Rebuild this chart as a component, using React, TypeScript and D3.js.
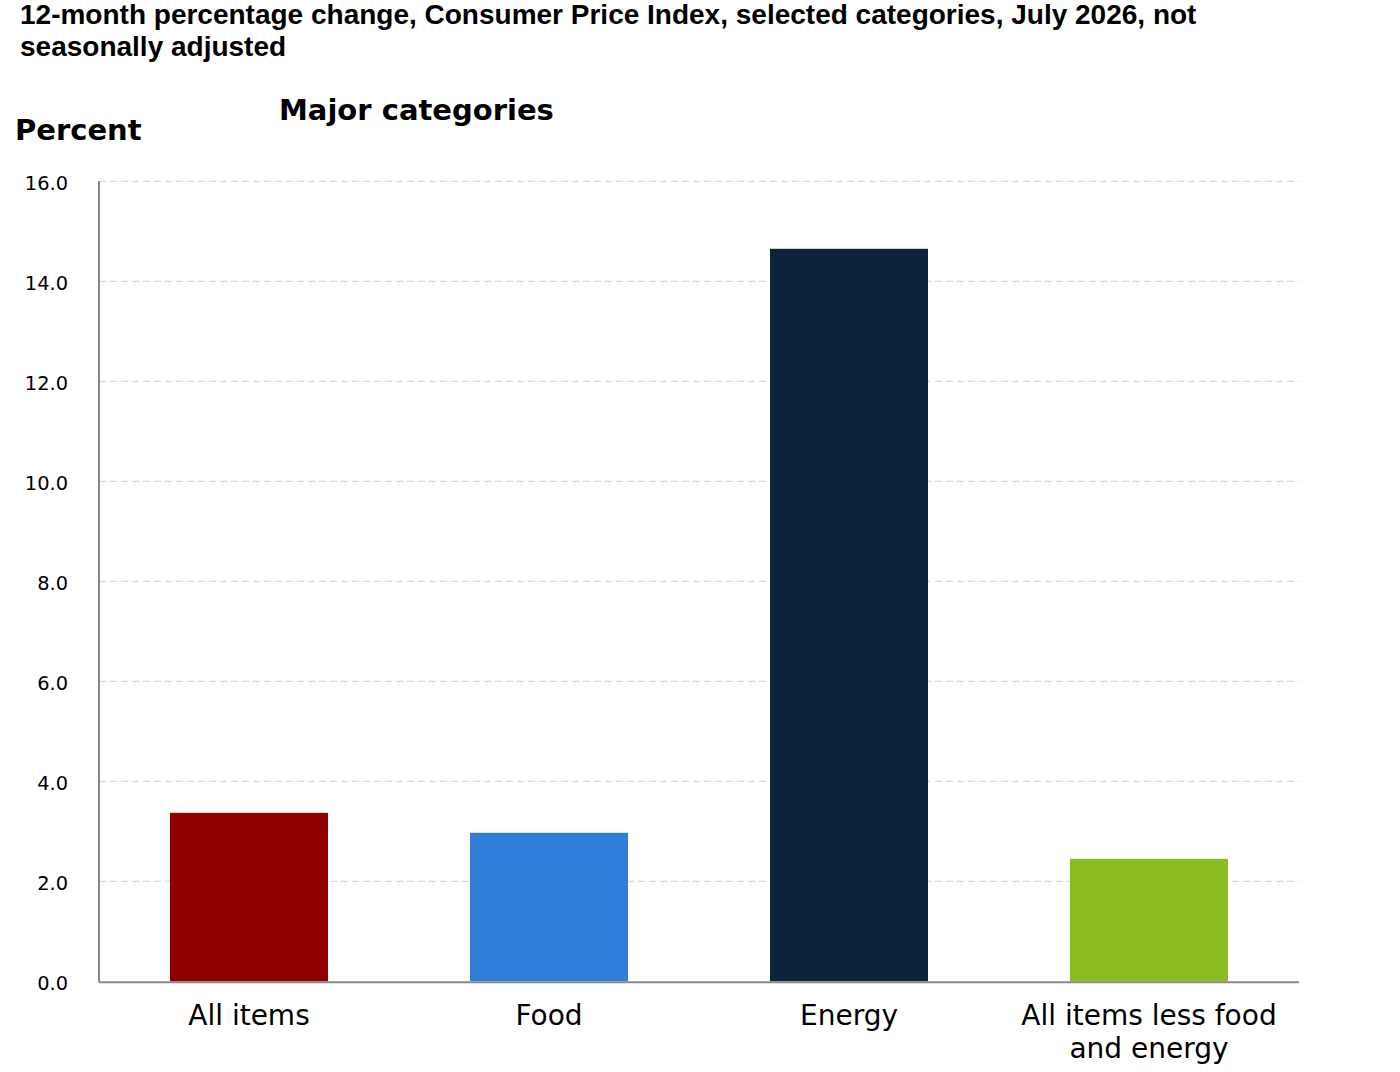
import React from "react";
import * as d3 from "d3";

const titleLines = [
  "12-month percentage change, Consumer Price Index, selected categories, July 2026, not",
  "seasonally adjusted",
];
const subtitle = "Major categories";
const yAxisTitle = "Percent";

const categories = ["All items", "Food", "Energy", "All items less food and energy"];
const categoryLabelLines = [["All items"], ["Food"], ["Energy"], ["All items less food", "and energy"]];
const values = [3.37, 2.97, 14.65, 2.45];
const barColors = ["#910000", "#2f7ed8", "#0d233a", "#8bbc21"];
const yTicks = [0, 2, 4, 6, 8, 10, 12, 14, 16];

const W = 1400;
const H = 1072;
const plotLeft = 99;
const plotRight = 1299;
const plotTop = 181.3;
const plotBottom = 981.3;

export default function App() {
  const x = d3.scaleBand<string>().domain(categories).range([plotLeft, plotRight]).paddingInner(0.4733).paddingOuter(0.2367);
  const y = d3.scaleLinear().domain([0, 16]).range([plotBottom, plotTop]);
  const fmt = d3.format(".1f");
  const verdana = "'DejaVu Sans', Verdana, sans-serif";
  const arial = "'Liberation Sans', Arial, sans-serif";

  return (
    <svg width={W} height={H} style={{ position: "absolute", left: 0, top: 0, background: "#fff" }}>
      <rect x={0} y={0} width={W} height={H} fill="#fff" />
      {titleLines.map((t, i) => (
        <text key={i} x={20} y={24 + i * 32} fontFamily={arial} fontWeight="bold" fontSize={28} fill="#000">
          {t}
        </text>
      ))}
      <text x={279} y={120} fontFamily={verdana} fontWeight="bold" fontSize={29} fill="#000">
        {subtitle}
      </text>
      <text x={15} y={140} fontFamily={verdana} fontWeight="bold" fontSize={29} fill="#000">
        {yAxisTitle}
      </text>
      {yTicks.map((t) => (
        <g key={t}>
          {t > 0 && (
            <line x1={plotLeft} x2={plotRight} y1={y(t)} y2={y(t)} stroke="#d0d0d0" strokeWidth={1} strokeDasharray="7,4" />
          )}
          <text x={68} y={y(t) + 8.5} textAnchor="end" fontFamily={verdana} fontSize={19.4} fill="#000">
            {fmt(t)}
          </text>
        </g>
      ))}
      {categories.map((c, i) => (
        <rect key={c} x={x(c)} y={y(values[i])} width={x.bandwidth()} height={y(0) - y(values[i])} fill={barColors[i]} />
      ))}
      <line x1={99} x2={99} y1={plotTop} y2={plotBottom + 1} stroke="#888" strokeWidth={2} />
      <line x1={plotLeft} x2={plotRight} y1={plotBottom + 1} y2={plotBottom + 1} stroke="#888" strokeWidth={2} />
      {categories.map((c, i) => (
        <text key={c} textAnchor="middle" fontFamily={verdana} fontSize={28} fill="#000">
          {categoryLabelLines[i].map((l, j) => (
            <tspan key={j} x={(x(c) as number) + x.bandwidth() / 2} y={1025 + j * 33}>
              {l}
            </tspan>
          ))}
        </text>
      ))}
    </svg>
  );
}
